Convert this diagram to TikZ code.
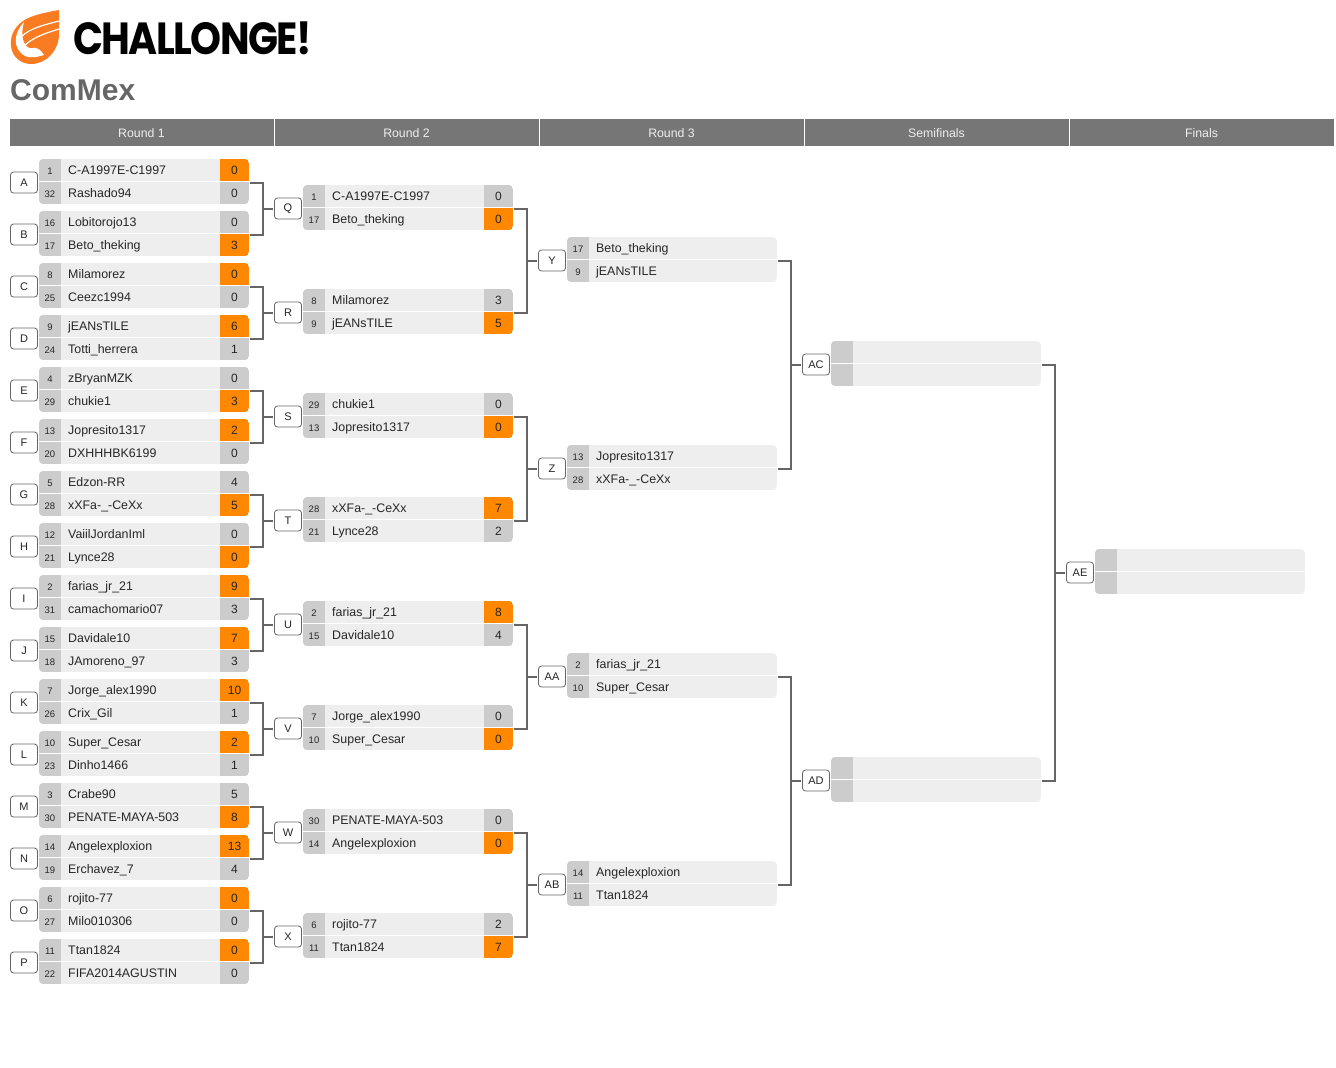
\documentclass[tikz,border=0pt]{standalone}
\usepackage{fontspec}
\setmainfont{Liberation Sans}
\newfontfamily\logofont[LetterSpace=-4]{Poppins}
\definecolor{barcol}{HTML}{767676}
\definecolor{rowcol}{HTML}{EEEEEE}
\definecolor{seedcol}{HTML}{CCCCCC}
\definecolor{wincol}{HTML}{FF8800}
\definecolor{linecol}{HTML}{666666}
\definecolor{flamecol}{HTML}{F97C22}
\tikzset{
  labelbox/.style={draw=linecol,fill=white,line width=0.8pt,rounded corners=3pt,minimum width=27pt,minimum height=21pt,inner sep=0pt,font=\fontsize{11}{13}\selectfont,text=black!85},
  seedtext/.style={anchor=base,inner sep=0pt,font=\fontsize{9.5}{12}\selectfont,text=black!85},
  nametext/.style={anchor=base west,inner sep=0pt,font=\fontsize{12.4}{14}\selectfont,text=black!85},
  scoretext/.style={anchor=base,inner sep=0pt,font=\fontsize{12}{14}\selectfont,text=black!85},
  headtext/.style={inner sep=0pt,font=\fontsize{12.3}{14}\selectfont,text=rowcol},
  link/.style={draw=linecol,line width=2pt},
}
% one row of a match: name, x, y, seed, player, score, score colour
\newcommand{\playerrow}[7]{
  \fill[rowcol] (#2,#3) rectangle ++(210,22);
  \fill[seedcol] (#2,#3) rectangle ++(22,22);
  \fill[#7] ({#2+181},#3) rectangle ++(29,22);
  \node[seedtext] (seed#1) at ({#2+11},{#3+15.5}) {#4};
  \node[nametext] (name#1) at ({#2+29},{#3+15.3}) {#5};
  \node[scoretext] (score#1) at ({#2+195.5},{#3+15}) {#6};
}
% a match: name, x, y, top row, bottom row
\newcommand{\matchbox}[5]{
  \node[labelbox] (#1) at ({#2-15},{#3+23.5}) {#1};
  \begin{scope}
    \clip[rounded corners=4pt] (#2,#3) rectangle ++(210,45);
    \playerrow{#1t}{#2}{#3}#4
    \playerrow{#1b}{#2}{#3+23}#5
  \end{scope}
  \coordinate (out#1) at ({#2+211},{#3+24});
}
% two matches feeding the next one
\newcommand{\joinmatch}[3]{
  \draw[link] (out#1) -- ++(13,0) |- (out#2);
  \draw[link] ($(#3.west)+(-1.5,0)$) -- ++(-9.5,0);
}
\usetikzlibrary{calc}
\begin{document}
\begin{tikzpicture}[x=1pt,y=-1pt]
  \useasboundingbox (0,0) rectangle (1336,1068);

  % logo
  \fill[flamecol] (59,10) .. controls (42,13) and (30,16) .. (23,21)
    .. controls (13,28) and (10,38) .. (11,46)
    .. controls (12,57) and (21,64) .. (31,64)
    .. controls (47,64) and (59,50) .. (59,34) -- cycle;
  \fill[white] (24,22) .. controls (15,32) and (13,44) .. (20,52)
    .. controls (26,59) and (34,58) .. (44,55)
    .. controls (41,50) and (37,47) .. (33,48)
    .. controls (26,50) and (19,40) .. (24,22) -- cycle;
  \draw[white,line width=1.2pt] (21,37) .. controls (30,28) and (44,25) .. (59,21);
  \draw[white,line width=1.2pt] (25,45) .. controls (34,37) and (46,33) .. (59,29);
  \node[anchor=base west,inner sep=0pt,xscale=0.875,font=\logofont\bfseries\fontsize{45}{50}\selectfont] (logoname) at (73,54) {CHALLONGE!};

  % title
  \node[anchor=base west,inner sep=0pt,font=\bfseries\fontsize{30}{34}\selectfont,text=linecol] (title) at (10,100) {ComMex};

  % header bar
  \fill[barcol] (10,119) rectangle (274,146);
  \fill[barcol] (275,119) rectangle (539,146);
  \fill[barcol] (540,119) rectangle (804,146);
  \fill[barcol] (805,119) rectangle (1069,146);
  \fill[barcol] (1070,119) rectangle (1334,146);
  \node[headtext] (headA) at (141.5,133.5) {Round 1};
  \node[headtext] (headB) at (406.5,133.5) {Round 2};
  \node[headtext] (headC) at (671.5,133.5) {Round 3};
  \node[headtext] (headD) at (936.5,133.5) {Semifinals};
  \node[headtext] (headE) at (1201.5,133.5) {Finals};

  % round 1
  \matchbox{A}{39}{159}{{1}{C-A1997E-C1997}{0}{wincol}}{{32}{Rashado94}{0}{seedcol}}
  \matchbox{B}{39}{211}{{16}{Lobitorojo13}{0}{seedcol}}{{17}{Beto\_theking}{3}{wincol}}
  \matchbox{C}{39}{263}{{8}{Milamorez}{0}{wincol}}{{25}{Ceezc1994}{0}{seedcol}}
  \matchbox{D}{39}{315}{{9}{jEANsTILE}{6}{wincol}}{{24}{Totti\_herrera}{1}{seedcol}}
  \matchbox{E}{39}{367}{{4}{zBryanMZK}{0}{seedcol}}{{29}{chukie1}{3}{wincol}}
  \matchbox{F}{39}{419}{{13}{Jopresito1317}{2}{wincol}}{{20}{DXHHHBK6199}{0}{seedcol}}
  \matchbox{G}{39}{471}{{5}{Edzon-RR}{4}{seedcol}}{{28}{xXFa-\_-CeXx}{5}{wincol}}
  \matchbox{H}{39}{523}{{12}{VaiilJordanIml}{0}{seedcol}}{{21}{Lynce28}{0}{wincol}}
  \matchbox{I}{39}{575}{{2}{farias\_jr\_21}{9}{wincol}}{{31}{camachomario07}{3}{seedcol}}
  \matchbox{J}{39}{627}{{15}{Davidale10}{7}{wincol}}{{18}{JAmoreno\_97}{3}{seedcol}}
  \matchbox{K}{39}{679}{{7}{Jorge\_alex1990}{10}{wincol}}{{26}{Crix\_Gil}{1}{seedcol}}
  \matchbox{L}{39}{731}{{10}{Super\_Cesar}{2}{wincol}}{{23}{Dinho1466}{1}{seedcol}}
  \matchbox{M}{39}{783}{{3}{Crabe90}{5}{seedcol}}{{30}{PENATE-MAYA-503}{8}{wincol}}
  \matchbox{N}{39}{835}{{14}{Angelexploxion}{13}{wincol}}{{19}{Erchavez\_7}{4}{seedcol}}
  \matchbox{O}{39}{887}{{6}{rojito-77}{0}{wincol}}{{27}{Milo010306}{0}{seedcol}}
  \matchbox{P}{39}{939}{{11}{Ttan1824}{0}{wincol}}{{22}{FIFA2014AGUSTIN}{0}{seedcol}}

  % round 2
  \matchbox{Q}{303}{185}{{1}{C-A1997E-C1997}{0}{seedcol}}{{17}{Beto\_theking}{0}{wincol}}
  \matchbox{R}{303}{289}{{8}{Milamorez}{3}{seedcol}}{{9}{jEANsTILE}{5}{wincol}}
  \matchbox{S}{303}{393}{{29}{chukie1}{0}{seedcol}}{{13}{Jopresito1317}{0}{wincol}}
  \matchbox{T}{303}{497}{{28}{xXFa-\_-CeXx}{7}{wincol}}{{21}{Lynce28}{2}{seedcol}}
  \matchbox{U}{303}{601}{{2}{farias\_jr\_21}{8}{wincol}}{{15}{Davidale10}{4}{seedcol}}
  \matchbox{V}{303}{705}{{7}{Jorge\_alex1990}{0}{seedcol}}{{10}{Super\_Cesar}{0}{wincol}}
  \matchbox{W}{303}{809}{{30}{PENATE-MAYA-503}{0}{seedcol}}{{14}{Angelexploxion}{0}{wincol}}
  \matchbox{X}{303}{913}{{6}{rojito-77}{2}{seedcol}}{{11}{Ttan1824}{7}{wincol}}

  % round 3
  \matchbox{Y}{567}{237}{{17}{Beto\_theking}{}{rowcol}}{{9}{jEANsTILE}{}{rowcol}}
  \matchbox{Z}{567}{445}{{13}{Jopresito1317}{}{rowcol}}{{28}{xXFa-\_-CeXx}{}{rowcol}}
  \matchbox{AA}{567}{653}{{2}{farias\_jr\_21}{}{rowcol}}{{10}{Super\_Cesar}{}{rowcol}}
  \matchbox{AB}{567}{861}{{14}{Angelexploxion}{}{rowcol}}{{11}{Ttan1824}{}{rowcol}}

  % semifinals and finals
  \matchbox{AC}{831}{341}{{}{}{}{rowcol}}{{}{}{}{rowcol}}
  \matchbox{AD}{831}{757}{{}{}{}{rowcol}}{{}{}{}{rowcol}}
  \matchbox{AE}{1095}{549}{{}{}{}{rowcol}}{{}{}{}{rowcol}}

  % connectors
  \joinmatch{A}{B}{Q}
  \joinmatch{C}{D}{R}
  \joinmatch{E}{F}{S}
  \joinmatch{G}{H}{T}
  \joinmatch{I}{J}{U}
  \joinmatch{K}{L}{V}
  \joinmatch{M}{N}{W}
  \joinmatch{O}{P}{X}
  \joinmatch{Q}{R}{Y}
  \joinmatch{S}{T}{Z}
  \joinmatch{U}{V}{AA}
  \joinmatch{W}{X}{AB}
  \joinmatch{Y}{Z}{AC}
  \joinmatch{AA}{AB}{AD}
  \joinmatch{AC}{AD}{AE}
\end{tikzpicture}
\end{document}
